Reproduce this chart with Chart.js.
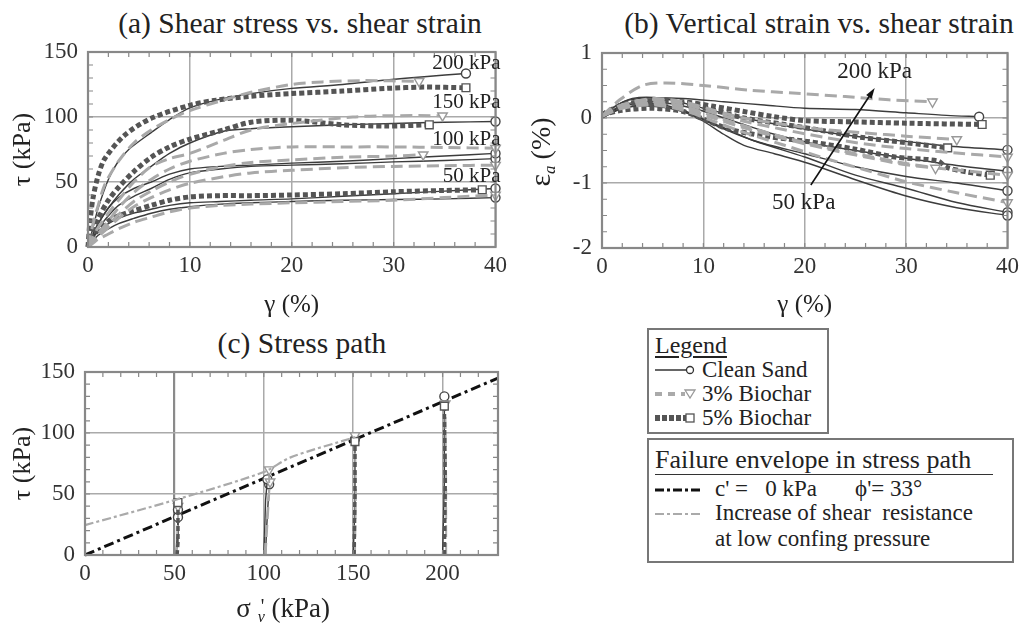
<!DOCTYPE html>
<html>
<head>
<meta charset="utf-8">
<script src="https://cdn.jsdelivr.net/npm/chart.js@4"></script>
<style>
body { margin: 0; background: #fff; font-family: 'Liberation Serif', serif; color: #222; }
#page { position: relative; width: 1024px; height: 623px; overflow: hidden; }
#page canvas { position: absolute; }
.ttl { position: absolute; width: 520px; text-align: center; font-size: 29.5px; line-height: 32px; white-space: nowrap; }
.box { position: absolute; border: 2px solid #777; box-sizing: border-box; }
.row { position: absolute; white-space: nowrap; font-family: 'Liberation Serif', serif; }
.row svg { position: absolute; }
</style>
</head>
<body>
<div id="page">
  <div class="ttl" style="left:40px;top:7px">(a) Shear stress vs. shear strain</div>
  <div class="ttl" style="left:559px;top:7px">(b) Vertical strain vs. shear strain</div>
  <div class="ttl" style="left:42px;top:327px">(c) Stress path</div>
  <canvas id="chartA" width="512" height="320" style="left:0;top:0"></canvas>
  <canvas id="chartB" width="512" height="320" style="left:512px;top:0"></canvas>
  <canvas id="chartC" width="512" height="303" style="left:0;top:320px"></canvas>

  <div class="box" style="left:647px;top:328px;width:182px;height:106px">
    <div class="row" style="left:6px;top:2px;font-size:24px;line-height:26px;text-decoration:underline;text-underline-offset:3px">Legend</div>
    <div class="row" style="left:6px;top:27px;font-size:23px;line-height:26px">
      <svg width="42" height="26" style="left:0;top:0"><line x1="0" y1="13" x2="31" y2="13" stroke="#333" stroke-width="1.5"/><circle cx="35" cy="13" r="3.5" fill="#fff" stroke="#333" stroke-width="1.3"/></svg>
      <span style="margin-left:47px">Clean Sand</span>
    </div>
    <div class="row" style="left:6px;top:51px;font-size:23px;line-height:26px">
      <svg width="42" height="26" style="left:0;top:0"><line x1="0" y1="13" x2="30" y2="13" stroke="#aaa" stroke-width="4" stroke-dasharray="7,6"/><polygon points="30,9 40,9 35,17" fill="#fff" stroke="#999" stroke-width="1.3"/></svg>
      <span style="margin-left:47px">3% Biochar</span>
    </div>
    <div class="row" style="left:6px;top:75px;font-size:23px;line-height:26px">
      <svg width="42" height="26" style="left:0;top:0"><line x1="0" y1="13" x2="31" y2="13" stroke="#555" stroke-width="6" stroke-dasharray="5,2"/><rect x="31" y="9" width="8" height="8" fill="#fff" stroke="#555" stroke-width="1.3"/></svg>
      <span style="margin-left:47px">5% Biochar</span>
    </div>
  </div>

  <div class="box" style="left:647px;top:438px;width:367px;height:125px">
    <div class="row" style="left:6px;top:6px;font-size:26px;line-height:28px;width:338px;border-bottom:1.5px solid #333">Failure envelope in stress path</div>
    <div class="row" style="left:6px;top:36px;font-size:23px;line-height:26px">
      <svg width="50" height="26" style="left:0;top:0"><line x1="0" y1="14" x2="46" y2="14" stroke="#111" stroke-width="3" stroke-dasharray="9,3,3,3"/></svg>
      <span style="margin-left:60px">c' = &nbsp;&nbsp;0 kPa</span><span style="margin-left:38px">ϕ'= 33°</span>
    </div>
    <div class="row" style="left:6px;top:60px;font-size:23px;line-height:26px">
      <svg width="50" height="26" style="left:0;top:0"><line x1="0" y1="14" x2="46" y2="14" stroke="#aaa" stroke-width="2" stroke-dasharray="9,3,3,3"/></svg>
      <span style="margin-left:60px">Increase of shear&nbsp; resistance</span>
    </div>
    <div class="row" style="left:66px;top:86px;font-size:23px;line-height:26px">at low confing pressure</div>
  </div>
</div>

<script>
// ---- (a) shear stress tau (kPa) vs shear strain gamma (%) : [gamma, tau]
const tauClean200 = [[0,0],[0.5,15],[1,30],[2,52],[2.9,65],[4,75],[6.2,88],[8,98],[10,107],[12.6,113],[16,118],[20,122],[25,125],[29.3,128.5],[33,131],[37.1,133.5]];
const tauClean150 = [[0,0],[0.5,10],[1,18],[2,30],[3,40],[4.5,52],[6.2,62],[8,72],[10,80],[13.3,89],[16,91],[20,92.5],[25,94],[30,95],[35,96],[40,96.5]];
const tauClean100a = [[0,0],[0.5,10],[1,18],[2,30],[3,38],[4.5,45],[6.2,50],[8,56],[10,60],[13,62],[16,63],[20,64.5],[25,66],[30,68],[35,70],[40,72]];
const tauClean100b = [[0,0],[0.5,8],[1,14],[2,24],[3,32],[4.5,39],[6.2,45],[8,52],[10,57],[13,60],[16,62],[20,63],[25,64],[30,65.5],[35,66.5],[40,68]];
const tauClean50a = [[0,0],[0.5,7],[1,12],[2,18],[3,22],[4.5,26],[6.2,29],[8,32],[10,34],[13,35],[16,36],[20,37],[25,39],[30,41],[35,43],[40,45]];
const tauClean50b = [[0,0],[0.5,5],[1,9],[2,14],[3,18],[4.5,22],[6.2,26],[8,29],[10,31],[13,33],[16,34],[20,35],[25,36],[30,36.5],[35,37],[40,38]];
const tauBio3_200 = [[0,0],[0.5,18],[1,32],[1.65,48],[3,66],[4.5,80],[6.2,90],[8,98],[10,105],[13.3,113],[16,119],[20,125],[23,127],[27,128],[32.5,127.5]];
const tauBio3_150 = [[0,0],[0.5,8],[1,15],[2,26],[3,36],[4.5,50],[6.2,62],[8,68],[10,72],[13.3,82],[16,90],[20,95],[26,100],[30,101],[34.8,101]];
const tauBio3_100a = [[0,0],[0.5,5],[1,9],[2,17],[3,25],[4.5,35],[6.2,43],[8,50],[10,56],[13.3,62],[16,65],[20,67],[25,69],[30,70],[32.9,71]];
const tauBio3_100b = [[0,0],[0.5,5],[1,10],[2,20],[3,30],[4.5,42],[6.2,52],[8,60],[10,66],[13.3,72],[16,75],[20,77],[25,77],[30,77],[35,76.5],[40,76]];
const tauBio3_100c = [[0,0],[1,8],[2,15],[3,22],[4.5,31],[6.2,38],[8,44],[10,49],[13.3,54],[16,57],[20,59],[25,61],[30,62],[35,62.5],[40,63]];
const tauBio3_50 = [[0,0],[0.5,3],[1,6],[2,10],[3,14],[4.5,19],[6.2,23],[8,27],[10,30],[13,32],[16,33],[20,34],[25,35],[30,36],[35,38],[40,40]];
const tauBio5_200 = [[0,0],[0.2,20],[0.5,38],[1,55],[1.65,68],[3.6,86],[6.2,99],[10,109],[12.6,113],[16,116],[20,118],[25,120],[29.3,122],[33,123],[37.1,122.5]];
const tauBio5_150 = [[0,0],[0.5,12],[1,22],[2,36],[2.9,45],[4.5,58],[6.2,69],[8,77],[10,83],[13.3,90],[16,96],[20,97.5],[25,94],[29.3,93],[33.5,94]];
const tauBio5_50 = [[0,0],[0.5,8],[1,13],[2,20],[3,24],[4.5,28],[6.2,32],[8,36],[10,38.5],[13,39.5],[16,39.5],[20,40],[25,41],[30,42.5],[35,43.5],[38.7,44]];

// ---- (b) vertical strain eps_a (%) vs gamma (%) : [gamma, eps]
const epsClean200 = [[0,0],[1,0.15],[2.5,0.27],[4.7,0.31],[8,0.3],[12,0.25],[16,0.2],[20,0.15],[25,0.13],[30,0.08],[34,0.04],[37.2,0.02]];
const epsClean150 = [[0,0],[1,0.15],[3,0.3],[6,0.3],[10,0.15],[14,0],[19.2,-0.15],[25,-0.28],[29.9,-0.36],[34,-0.43],[40,-0.49]];
const epsClean100a = [[0,0],[2,0.2],[5,0.25],[9,0.15],[13,-0.05],[17,-0.25],[21,-0.4],[25,-0.5],[30,-0.62],[35,-0.73],[40,-0.82]];
const epsClean100b = [[0,0],[2,0.15],[5,0.18],[8,0.1],[12,-0.15],[15,-0.35],[20,-0.55],[25,-0.75],[30,-0.9],[35,-1.0],[40,-1.12]];
const epsClean50a = [[0,0],[2,0.15],[5,0.2],[8,0.1],[10,-0.05],[12,-0.25],[14,-0.42],[17,-0.55],[20.4,-0.7],[25,-0.95],[30,-1.2],[35,-1.38],[40,-1.5]];
const epsClean50b = [[0,0],[2,0.18],[5,0.22],[8,0.12],[11,-0.1],[15,-0.35],[20,-0.6],[25,-0.88],[30,-1.08],[35,-1.3],[40,-1.45]];
const epsBio3_200 = [[0,0.03],[1.75,0.28],[4,0.5],[6.3,0.54],[10,0.5],[14.4,0.43],[19.2,0.38],[24,0.33],[28.3,0.28],[32.6,0.25]];
const epsBio3_150 = [[0,0.03],[2,0.2],[5,0.3],[8,0.25],[11,0.12],[14,0],[18,-0.1],[22,-0.18],[26,-0.23],[30,-0.28],[35,-0.33]];
const epsBio3_100a = [[0,0.03],[2,0.18],[5,0.25],[8,0.18],[11,0.03],[14,-0.12],[18,-0.3],[22,-0.45],[26,-0.58],[30,-0.7],[32.9,-0.77]];
const epsBio3_100b = [[0,0.03],[2,0.2],[5,0.28],[8,0.22],[11,0.08],[14,-0.05],[18,-0.18],[22,-0.3],[26,-0.4],[30,-0.47],[35,-0.54],[40,-0.6]];
const epsBio3_100c = [[0,0.03],[2,0.16],[5,0.22],[8,0.15],[11,0],[14,-0.15],[18,-0.32],[22,-0.47],[26,-0.6],[30,-0.72],[35,-0.8],[40,-0.88]];
const epsBio3_50 = [[0,0.03],[2,0.15],[5,0.2],[8,0.12],[11,-0.05],[14,-0.22],[18,-0.42],[22,-0.62],[26,-0.8],[30,-0.98],[35,-1.15],[40,-1.3]];
const epsBio5_200 = [[0,0.05],[2,0.2],[5,0.27],[8,0.25],[11,0.18],[14,0.1],[17,0.02],[20,-0.04],[25,-0.06],[30,-0.08],[37.5,-0.1]];
const epsBio5_150 = [[0,0.05],[2,0.2],[5,0.25],[8,0.22],[11,0.12],[14,0],[18,-0.1],[22,-0.2],[25.7,-0.3],[30,-0.38],[34.1,-0.46]];
const epsBio5_50 = [[0,0.05],[2,0.12],[5,0.15],[8,0.1],[10.5,-0.05],[12.7,-0.18],[16.6,-0.29],[20.2,-0.36],[25,-0.48],[28.9,-0.6],[33.1,-0.66],[34,-0.76],[36,-0.83],[38.3,-0.88]];

// ---- (c) stress path tau vs sigma_v' (kPa) : [sigma, tau]
const pathClean50a = [[51,0],[51.5,10],[52,20],[52,31]];
const pathClean50b = [[51,0],[51.5,15],[52,25],[52,37]];
const pathBio3_50 = [[51,0],[51.5,15],[52,30],[52,40]];
const pathBio5_50 = [[51.5,0],[52,10],[52,25],[52,43]];
const pathClean100a = [[100,0],[100.5,20],[101,45],[102,62]];
const pathClean100b = [[101,0],[101.5,20],[102.5,45],[103,58]];
const pathBio3_100a = [[101,0],[102,25],[103,50],[103,70]];
const pathBio3_100b = [[100.5,0],[101.5,25],[102.5,45],[103.5,60]];
const pathClean150 = [[150,0],[151,40],[151,95]];
const pathBio3_150 = [[151,0],[151.5,50],[151,98]];
const pathBio5_150 = [[150.5,0],[151,50],[151,93]];
const pathClean200 = [[200,0],[201,60],[201,130]];
const pathBio3_200 = [[202,0],[202,60],[201.5,124]];
const pathBio5_200 = [[201,0],[201.5,60],[201,122]];
const envelopeMc = [[0,0],[231,145]];
const envelopeLow = [[0,24.5],[50,45],[100,68],[115,80],[152,97]];

const tauTicks = [0, 50, 100, 150];
const epsTicks = [-2, -1, 0, 1];
const gammaTicks = [0, 10, 20, 30, 40];
const sigmaTicks = [0, 50, 100, 150, 200];

const FONT = "'Liberation Serif', serif";

const styles = {
  clean: { borderColor: '#3c3c3c', borderWidth: 1.4, borderDash: [], pointStyle: 'circle', pointBorderColor: '#444', r: 4.5 },
  bio3: { borderColor: '#a9a9a9', borderWidth: 3, borderDash: [12, 6], pointStyle: 'triangle', pointBorderColor: '#999', r: 5.5 },
  bio5: { borderColor: '#555', borderWidth: 5, borderDash: [5, 3], pointStyle: 'rect', pointBorderColor: '#555', r: 5.5 }
};

function series(points, kind, extra) {
  const s = styles[kind];
  return Object.assign({
    data: points.map(p => ({ x: p[0], y: p[1] })),
    showLine: true,
    borderColor: s.borderColor,
    borderWidth: s.borderWidth,
    borderDash: s.borderDash,
    borderCapStyle: 'butt',
    tension: 0.3,
    pointStyle: s.pointStyle,
    rotation: kind === 'bio3' ? 180 : 0,
    pointRadius: ctx => ctx.dataIndex === ctx.dataset.data.length - 1 ? s.r : 0,
    pointBackgroundColor: '#fff',
    pointBorderColor: s.pointBorderColor,
    pointBorderWidth: 1.4,
    clip: false
  }, extra || {});
}

// frame, minor ticks, notes, arrows and rich axis titles
const decor = {
  id: 'decor',
  afterDatasetsDraw(chart, args, opts) {
    const { ctx, chartArea: a, scales: { x, y } } = chart;
    ctx.save();
    ctx.strokeStyle = '#888';
    ctx.lineWidth = 1.2;
    ctx.beginPath();
    if (opts.minorX) {
      const n = Math.round((x.max - x.min) / opts.minorX);
      for (let i = 1; i < n; i++) {
        const px = x.getPixelForValue(x.min + i * opts.minorX);
        ctx.moveTo(px, a.top); ctx.lineTo(px, a.top + 5);
        ctx.moveTo(px, a.bottom); ctx.lineTo(px, a.bottom - 5);
      }
    }
    if (opts.minorY) {
      const n = Math.round((y.max - y.min) / opts.minorY);
      for (let i = 1; i < n; i++) {
        const py = y.getPixelForValue(y.min + i * opts.minorY);
        ctx.moveTo(a.left, py); ctx.lineTo(a.left + 5, py);
        ctx.moveTo(a.right, py); ctx.lineTo(a.right - 5, py);
      }
    }
    ctx.stroke();
    ctx.lineWidth = 2.2;
    ctx.strokeStyle = '#888';
    ctx.strokeRect(a.left, a.top, a.right - a.left, a.bottom - a.top);

    ctx.fillStyle = '#222';
    ctx.textBaseline = 'middle';
    (opts.notes || []).forEach(n => {
      ctx.font = n.size + 'px ' + FONT;
      ctx.textAlign = n.align || 'center';
      ctx.fillText(n.text, x.getPixelForValue(n.x), y.getPixelForValue(n.y));
    });
    (opts.arrows || []).forEach(ar => {
      const x0 = x.getPixelForValue(ar[0]), y0 = y.getPixelForValue(ar[1]);
      const x1 = x.getPixelForValue(ar[2]), y1 = y.getPixelForValue(ar[3]);
      const ang = Math.atan2(y1 - y0, x1 - x0);
      ctx.strokeStyle = '#111';
      ctx.lineWidth = 1.6;
      ctx.beginPath(); ctx.moveTo(x0, y0); ctx.lineTo(x1 - 8 * Math.cos(ang), y1 - 8 * Math.sin(ang)); ctx.stroke();
      ctx.fillStyle = '#111';
      ctx.beginPath();
      ctx.moveTo(x1, y1);
      ctx.lineTo(x1 - 11 * Math.cos(ang - 0.3), y1 - 11 * Math.sin(ang - 0.3));
      ctx.lineTo(x1 - 11 * Math.cos(ang + 0.3), y1 - 11 * Math.sin(ang + 0.3));
      ctx.closePath(); ctx.fill();
    });
    if (opts.rich) {
      const r = opts.rich;
      ctx.translate(r.x, r.y);
      ctx.rotate(r.rot || 0);
      ctx.textAlign = 'left';
      ctx.textBaseline = 'alphabetic';
      let w = 0;
      r.parts.forEach(p => { ctx.font = p.font; w += ctx.measureText(p.t).width + (p.gap || 0); });
      let cx = -w / 2;
      ctx.fillStyle = '#222';
      r.parts.forEach(p => {
        ctx.font = p.font;
        ctx.fillText(p.t, cx, 8 + (p.dy || 0));
        cx += ctx.measureText(p.t).width + (p.gap || 0);
      });
    }
    ctx.restore();
  }
};
Chart.register(decor);

function baseOptions(o) {
  return {
    responsive: false,
    animation: false,
    events: [],
    layout: { padding: o.padding },
    plugins: { legend: { display: false }, tooltip: { enabled: false }, decor: o.decor },
    scales: {
      x: {
        type: 'linear', min: o.xMin, max: o.xMax,
        afterFit: s => { s.height = o.xHeight; },
        afterBuildTicks: s => { s.ticks = o.xTicks.map(v => ({ value: v })); },
        grid: {
          color: c => (o.darkX === c.tick.value ? '#8a8a8a' : '#aaa'),
          lineWidth: c => (o.darkX === c.tick.value ? 2.2 : 1.5),
          drawTicks: false
        },
        border: { display: false },
        ticks: { padding: 5, color: '#333', font: { family: FONT, size: 23 }, maxRotation: 0 },
        title: o.xTitle ? { display: true, text: o.xTitle, color: '#222', font: { family: FONT, size: 25 }, padding: { top: 0, bottom: 0 } } : { display: false }
      },
      y: {
        type: 'linear', min: o.yMin, max: o.yMax,
        afterFit: s => { s.width = o.yWidth; },
        afterBuildTicks: s => { s.ticks = o.yTicks.map(v => ({ value: v })); },
        grid: { color: '#aaa', lineWidth: 1.5, drawTicks: false },
        border: { display: false },
        ticks: { padding: 10, color: '#333', font: { family: FONT, size: 23 } },
        title: o.yTitle ? { display: true, text: o.yTitle, color: '#222', font: { family: FONT, size: 26 }, padding: { top: 8, bottom: 0 } } : { display: false }
      }
    }
  };
}

new Chart(document.getElementById('chartA'), {
  type: 'scatter',
  data: {
    datasets: [
      series(tauBio3_200, 'bio3'), series(tauBio3_150, 'bio3'), series(tauBio3_100a, 'bio3'),
      series(tauBio3_100b, 'bio3'), series(tauBio3_100c, 'bio3'), series(tauBio3_50, 'bio3'),
      series(tauBio5_200, 'bio5'), series(tauBio5_150, 'bio5'), series(tauBio5_50, 'bio5'),
      series(tauClean200, 'clean'), series(tauClean150, 'clean'), series(tauClean100a, 'clean'),
      series(tauClean100b, 'clean'), series(tauClean50a, 'clean'), series(tauClean50b, 'clean')
    ]
  },
  options: baseOptions({
    padding: { top: 52, right: 12, left: 0, bottom: 0 },
    xMin: 0, xMax: 40, yMin: 0, yMax: 150, xHeight: 73, yWidth: 88,
    xTicks: gammaTicks, yTicks: tauTicks,
    xTitle: 'γ (%)', yTitle: 'τ (kPa)',
    decor: {
      minorX: 2, minorY: 10,
      notes: [
        { x: 40.5, y: 141.5, text: '200 kPa', size: 21, align: 'right' },
        { x: 40.5, y: 111.5, text: '150 kPa', size: 21, align: 'right' },
        { x: 40.5, y: 83, text: '100 kPa', size: 21, align: 'right' },
        { x: 40.5, y: 54, text: '50 kPa', size: 21, align: 'right' }
      ]
    }
  })
});

new Chart(document.getElementById('chartB'), {
  type: 'scatter',
  data: {
    datasets: [
      series(epsBio3_200, 'bio3'), series(epsBio3_150, 'bio3'), series(epsBio3_100a, 'bio3'),
      series(epsBio3_100b, 'bio3'), series(epsBio3_100c, 'bio3'), series(epsBio3_50, 'bio3'),
      series(epsBio5_200, 'bio5'), series(epsBio5_150, 'bio5'), series(epsBio5_50, 'bio5'),
      series(epsClean200, 'clean'), series(epsClean150, 'clean'), series(epsClean100a, 'clean'),
      series(epsClean100b, 'clean'), series(epsClean50a, 'clean'), series(epsClean50b, 'clean')
    ]
  },
  options: baseOptions({
    padding: { top: 53, right: 10, left: 0, bottom: 0 },
    xMin: 0, xMax: 40, yMin: -2, yMax: 1, xHeight: 72, yWidth: 90,
    xTicks: gammaTicks, yTicks: epsTicks,
    xTitle: 'γ (%)', yTitle: null,
    decor: {
      minorX: 2, minorY: 0.25,
      notes: [
        { x: 26.9, y: 0.71, text: '200 kPa', size: 23 },
        { x: 19.9, y: -1.31, text: '50 kPa', size: 23 }
      ],
      arrows: [[20.6, -1.03, 26.9, 0.46]],
      rich: {
        x: 30, y: 152, rot: -Math.PI / 2,
        parts: [
          { t: 'ε', font: '30px ' + FONT },
          { t: 'a', font: 'italic 17px ' + FONT, dy: 5, gap: 6 },
          { t: '(%)', font: '28px ' + FONT }
        ]
      }
    }
  })
});

const envMcDs = series(envelopeMc, 'clean', { borderColor: '#111', borderWidth: 3, borderDash: [10, 4, 3, 4], tension: 0, pointRadius: 0 });
const envLowDs = series(envelopeLow, 'clean', { borderColor: '#aaa', borderWidth: 2.2, borderDash: [9, 3, 3, 3], tension: 0.3, pointRadius: 0 });

new Chart(document.getElementById('chartC'), {
  type: 'scatter',
  data: {
    datasets: [
      envLowDs,
      series(pathBio5_50, 'bio5', { borderWidth: 3.5, tension: 0 }), series(pathBio5_150, 'bio5', { borderWidth: 3.5, tension: 0 }),
      series(pathBio5_200, 'bio5', { borderWidth: 3.5, tension: 0 }),
      series(pathBio3_50, 'bio3', { borderWidth: 2, tension: 0 }), series(pathBio3_100a, 'bio3', { borderWidth: 2, tension: 0 }),
      series(pathBio3_100b, 'bio3', { borderWidth: 2, tension: 0 }), series(pathBio3_150, 'bio3', { borderWidth: 2, tension: 0 }),
      series(pathBio3_200, 'bio3', { borderWidth: 2, tension: 0 }),
      series(pathClean50a, 'clean', { tension: 0 }), series(pathClean50b, 'clean', { tension: 0 }),
      series(pathClean100a, 'clean', { tension: 0 }), series(pathClean100b, 'clean', { tension: 0 }),
      series(pathClean150, 'clean', { tension: 0 }), series(pathClean200, 'clean', { tension: 0 }),
      envMcDs
    ]
  },
  options: baseOptions({
    padding: { top: 52, right: 14, left: 0, bottom: 0 },
    xMin: 0, xMax: 231, yMin: 0, yMax: 150, xHeight: 68, yWidth: 85,
    xTicks: sigmaTicks, yTicks: tauTicks, darkX: 50,
    xTitle: null, yTitle: 'τ (kPa)',
    decor: {
      minorX: 10, minorY: 10,
      rich: {
        x: 283, y: 289, rot: 0,
        parts: [
          { t: 'σ', font: '27px ' + FONT, gap: 7 },
          { t: 'v', font: 'italic 16px ' + FONT, dy: 5, gap: -4 },
          { t: "'", font: '20px ' + FONT, dy: -4, gap: 7 },
          { t: '(kPa)', font: '27px ' + FONT }
        ]
      }
    }
  })
});
</script>
</body>
</html>
